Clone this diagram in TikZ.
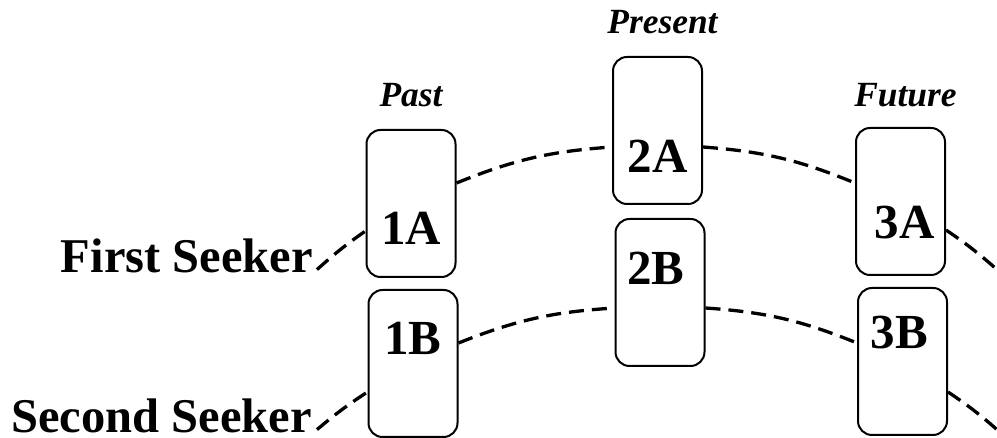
\documentclass[tikz,border=0pt]{standalone}
\usepackage{fontspec}
\setmainfont{Liberation Serif}
\usepackage{tikz}

\begin{document}
\begin{tikzpicture}[x=1pt,y=1pt,
		card/.style={draw,line width=2pt,rounded corners=14pt,minimum width=89pt,minimum height=147pt,inner sep=0pt},
		cardtext/.style={font=\fontsize{49}{49}\selectfont\bfseries,inner sep=0pt},
		when/.style={anchor=base,font=\fontsize{35.4}{36}\selectfont\bfseries\itshape,inner sep=0pt},
		seeker/.style={anchor=base east,font=\fontsize{48.5}{49}\selectfont\bfseries,inner sep=0pt},
		trail/.style={dash pattern=on 15pt off 8pt,line width=3.3pt}]
		\useasboundingbox (0,0) rectangle (997,438);
		%	\draw[very thin,color=gray] (0,0) grid[step=50] (997,438);
		% cards
		\node[card] (c1A) at (411,234.5) {};
		\node[card] (c1B) at (413,74.5) {};
		\node[card] (c2A) at (657.5,307.5) {};
		\node[card] (c2B) at (660,145.5) {};
		\node[card] (c3A) at (900.5,236.5) {};
		\node[card] (c3B) at (902.5,76.5) {};
		\node[cardtext] (t1A) at ([yshift=-24.5pt]c1A.center) {1A};
		\node[cardtext] (t1B) at ([yshift=25.5pt]c1B.center) {1B};
		\node[cardtext] (t2A) at ([yshift=-25.5pt]c2A.center) {2A};
		\node[cardtext] (t2B) at ([xshift=-4pt,yshift=24.5pt]c2B.center) {2B};
		\node[cardtext] (t3A) at ([xshift=4pt,yshift=-21.5pt]c3A.center) {3A};
		\node[cardtext] (t3B) at ([xshift=-3pt,yshift=28.5pt]c3B.center) {3B};
		% headers
		\node[when] (past) at ([yshift=22pt]c1A.north) {Past};
		\node[when] (present) at ([xshift=5pt,yshift=22pt]c2A.north) {Present};
		\node[when] (future) at ([xshift=5pt,yshift=20pt]c3A.north) {Future};
		% seekers
		\node[seeker] (seekA) at (313,165) {First Seeker};
		\node[seeker] (seekB) at (312,5) {Second Seeker};
		\coordinate (endA) at (997,168.4);
		\coordinate (endB) at (997,8.4);
		% first seeker
		\draw[trail] ([xshift=4pt,yshift=3.4pt]seekA.base east) to[bend left=3.5] ([yshift=-27.5pt]c1A.west);
		\draw[trail] ([yshift=20.5pt]c1A.east) to[bend left=9] ([yshift=-16.5pt]c2A.west);
		\draw[trail] ([yshift=-16.5pt]c2A.east) to[bend left=9] ([yshift=18.5pt]c3A.west);
		\draw[trail] ([yshift=-28.5pt]c3A.east) to[bend left=3.6] (endA);
		% second seeker
		\draw[trail] ([xshift=5pt,yshift=3.4pt]seekB.base east) to[bend left=3.5] ([yshift=-28.5pt]c1B.west);
		\draw[trail] ([yshift=20.5pt]c1B.east) to[bend left=9] ([yshift=-15.5pt]c2B.west);
		\draw[trail] ([yshift=-15.5pt]c2B.east) to[bend left=9] ([yshift=18.5pt]c3B.west);
		\draw[trail] ([yshift=-30.5pt]c3B.east) to[bend left=3.6] (endB);
		\end{tikzpicture}
\end{document}
